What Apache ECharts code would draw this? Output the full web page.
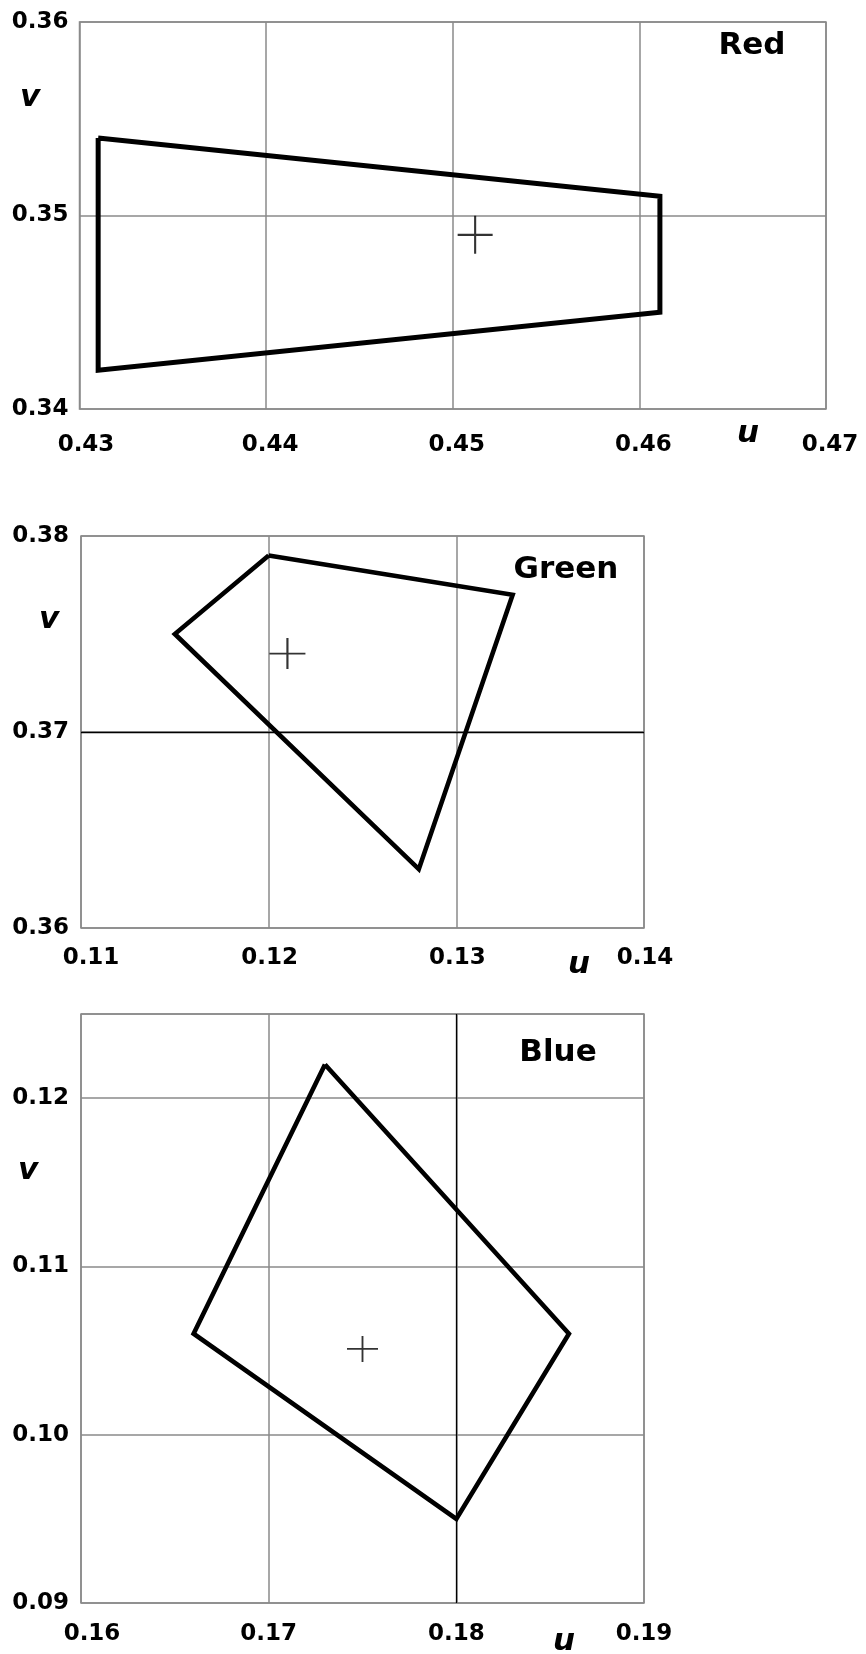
<!DOCTYPE html>
<html><head><meta charset="utf-8">
<script src="https://cdn.jsdelivr.net/npm/echarts@6/dist/echarts.min.js"></script>
<style>html,body{margin:0;padding:0;background:#fff}#c{width:866px;height:1654px}</style>
</head><body><div id="c"></div>
<script>
// ---- data ----
const redU = [0.431, 0.4611, 0.4611, 0.431];
const redV = [0.354, 0.351, 0.345, 0.342];
const redCenter = [0.4512, 0.349];
const redXLabels = ['0.43', '0.44', '0.45', '0.46', '0.47'];
const redYLabels = ['0.34', '0.35', '0.36'];

const greenU = [0.120, 0.133, 0.128, 0.115];
const greenV = [0.379, 0.377, 0.363, 0.375];
const greenCenter = [0.121, 0.374];
const greenXLabels = ['0.11', '0.12', '0.13', '0.14'];
const greenYLabels = ['0.36', '0.37', '0.38'];
const greenBlackV = [0.37];

const blueU = [0.173, 0.186, 0.180, 0.166];
const blueV = [0.122, 0.106, 0.095, 0.106];
const blueCenter = [0.175, 0.1051];
const blueXLabels = ['0.16', '0.17', '0.18', '0.19'];
const blueYLabels = ['0.09', '0.10', '0.11', '0.12'];
const blueYMax = 0.125;
const blueBlackU = [0.18];

const titles = ['Red', 'Green', 'Blue'];

// ---- helpers ----
const FONT = 'DejaVu Sans';
const TICK_SIZE = 23;
const GRID_COLOR = '#8a8a8a';
const PLUS = 'path://M0,47L100,47L100,53L0,53Z M47,0L53,0L53,100L47,100Z';

function poly(us, vs) {
  const d = us.map((u, i) => [u, vs[i]]);
  d.push([us[0], vs[0]]);
  return d;
}
function findLabel(labels, value) {
  for (const l of labels) if (Math.abs(parseFloat(l) - value) < 1e-6) return l;
  return '';
}
function xAxis(idx, labels, margin, firstPad, restPad) {
  const font = {fontSize: TICK_SIZE, fontWeight: 'bold', fontFamily: FONT, color: '#000'};
  return {
    type: 'value', gridIndex: idx,
    min: parseFloat(labels[0]), max: parseFloat(labels[labels.length - 1]), interval: 0.01,
    axisLine: {show: false}, axisTick: {show: false},
    splitLine: {show: true, lineStyle: {color: GRID_COLOR, width: 1.5}},
    axisLabel: Object.assign({
      margin: margin, verticalAlign: 'middle',
      formatter: function (v) {
        const l = findLabel(labels, v);
        if (!l) return '';
        return (l === labels[0] ? '{f|' : '{n|') + l + '}';
      },
      rich: {
        f: Object.assign({padding: [0, 0, 0, firstPad]}, font),
        n: Object.assign({padding: [0, 0, 0, restPad]}, font)
      }
    }, font)
  };
}
function yAxis(idx, labels, max, margin) {
  return {
    type: 'value', gridIndex: idx,
    min: parseFloat(labels[0]), max: max, interval: 0.01,
    axisLine: {show: false}, axisTick: {show: false},
    splitLine: {show: true, lineStyle: {color: GRID_COLOR, width: 1.5}},
    axisLabel: {
      margin: margin, fontSize: TICK_SIZE, fontWeight: 'bold', fontFamily: FONT, color: '#000',
      formatter: function (v) { return findLabel(labels, v); }
    }
  };
}
function polySeries(idx, us, vs, width, markLine) {
  const s = {
    type: 'line', xAxisIndex: idx, yAxisIndex: idx,
    data: poly(us, vs), symbol: 'none', silent: true, z: 4,
    lineStyle: {color: '#000', width: width, join: 'miter', miterLimit: 2}
  };
  if (markLine) s.markLine = markLine;
  return s;
}
function crossSeries(idx, c, size) {
  return {
    type: 'scatter', xAxisIndex: idx, yAxisIndex: idx,
    data: [c], symbol: PLUS, symbolSize: size, silent: true, z: 5,
    itemStyle: {color: '#000'}
  };
}
function txt(x, y, t, size, italic) {
  return {
    type: 'text', x: x, y: y, silent: true,
    style: {text: t, fill: '#000', font: (italic ? 'italic ' : '') + 'bold ' + size + 'px "' + FONT + '"',
      align: 'center', verticalAlign: 'middle'}
  };
}
const mlBase = {symbol: 'none', silent: true, label: {show: false},
  lineStyle: {color: '#000', width: 1.3, type: 'solid'}, emphasis: {disabled: true}};

const chart = echarts.init(document.getElementById('c'), null, {renderer: 'canvas'});
chart.setOption({
  animation: false,
  backgroundColor: '#fff',
  grid: [
    {left: 79.5, top: 22, width: 746.5, height: 387, show: true, borderColor: GRID_COLOR, borderWidth: 1.5, backgroundColor: 'transparent', containLabel: false, outerBoundsMode: 'none'},
    {left: 81, top: 536, width: 563, height: 392, show: true, borderColor: GRID_COLOR, borderWidth: 1.5, backgroundColor: 'transparent', containLabel: false, outerBoundsMode: 'none'},
    {left: 81, top: 1014, width: 563, height: 589, show: true, borderColor: GRID_COLOR, borderWidth: 1.5, backgroundColor: 'transparent', containLabel: false, outerBoundsMode: 'none'}
  ],
  xAxis: [
    xAxis(0, redXLabels, 36, 13, 8),
    xAxis(1, greenXLabels, 30, 20, 2),
    xAxis(2, blueXLabels, 31, 22, 0)
  ],
  yAxis: [
    yAxis(0, redYLabels, parseFloat(redYLabels[redYLabels.length - 1]), 11),
    yAxis(1, greenYLabels, parseFloat(greenYLabels[greenYLabels.length - 1]), 12),
    yAxis(2, blueYLabels, blueYMax, 12)
  ],
  series: [
    polySeries(0, redU, redV, 5),
    crossSeries(0, redCenter, [35, 38]),
    polySeries(1, greenU, greenV, 4.6, Object.assign({data: greenBlackV.map(v => ({yAxis: v}))}, mlBase)),
    crossSeries(1, greenCenter, [36, 31]),
    polySeries(2, blueU, blueV, 4.6, Object.assign({data: blueBlackU.map(u => ({xAxis: u}))}, mlBase)),
    crossSeries(2, blueCenter, [31, 26])
  ],
  graphic: [
    txt(752, 46, titles[0], 31, false),
    txt(566, 570, titles[1], 31, false),
    txt(558, 1053, titles[2], 31, false),
    txt(30, 98, 'v', 31, true),
    txt(49, 620, 'v', 31, true),
    txt(28, 1171, 'v', 31, true),
    txt(748, 434, 'u', 31, true),
    txt(579, 965, 'u', 31, true),
    txt(564, 1642, 'u', 31, true)
  ]
});
</script></body></html>
